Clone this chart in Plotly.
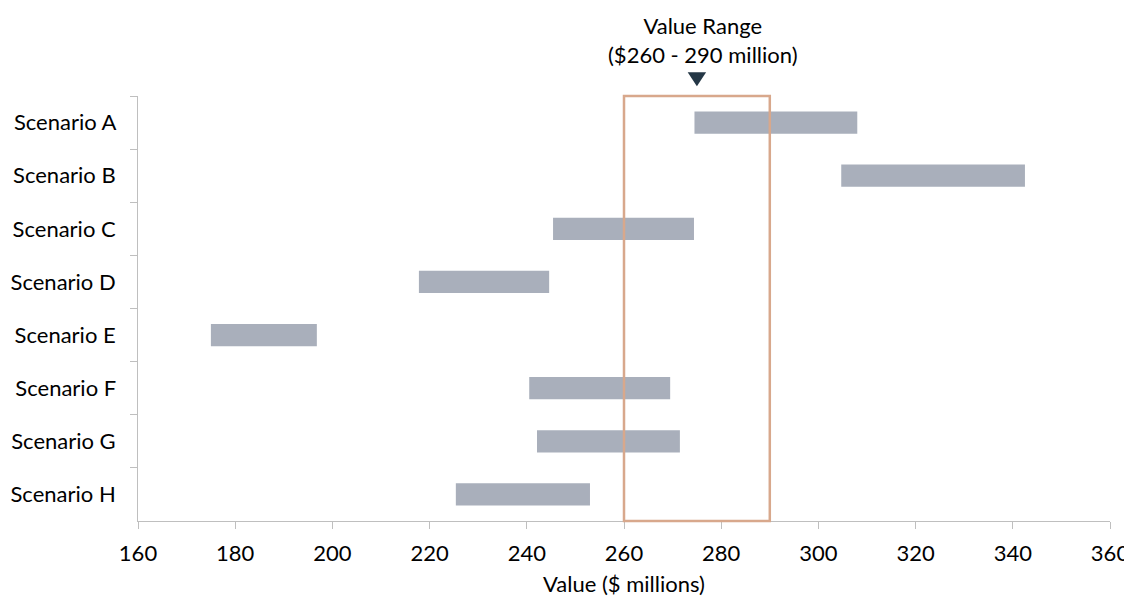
import plotly.graph_objects as go

scenarios = ["Scenario A", "Scenario B", "Scenario C", "Scenario D",
             "Scenario E", "Scenario F", "Scenario G", "Scenario H"]
low = [274.5, 304.7, 245.4, 217.8, 175.0, 240.5, 242.1, 225.4]
high = [308.0, 342.5, 274.4, 244.6, 196.8, 269.5, 271.5, 253.0]
range_low, range_high = 260, 290
marker_x = 275

FONT = "Lato"
FS = 22
fig = go.Figure()
fig.add_trace(go.Bar(
    y=scenarios, x=[h - l for l, h in zip(low, high)], base=low,
    orientation="h", marker=dict(color="#A9AFBB", line=dict(width=0)),
    width=0.42, hoverinfo="skip"))

fig.add_shape(type="rect", xref="x", yref="paper", x0=range_low, x1=range_high,
              y0=0, y1=1, line=dict(color="#D8A88C", width=2.5), fillcolor="rgba(0,0,0,0)")
fig.add_shape(type="path", xref="x", yref="paper",
              path=f"M {marker_x-1.9},1.056 L {marker_x+1.9},1.056 L {marker_x},1.023 Z",
              fillcolor="#243746", line=dict(width=0))
fig.add_annotation(xref="x", yref="paper", x=marker_x + 1.2, y=1.060, yanchor="bottom",
                   text="Value Range<br>($260 - 290 million)", showarrow=False,
                   font=dict(family=FONT, size=FS, color="#000"))
fig.add_annotation(xref="paper", yref="paper", x=0.5, y=-0.146, yanchor="middle",
                   text="Value ($ millions)", showarrow=False,
                   font=dict(family=FONT, size=FS, color="#000"))

fig.update_layout(
    width=1124, height=588, margin=dict(l=130, r=22, t=88, b=75),
    plot_bgcolor="white", paper_bgcolor="white", showlegend=False,
    font=dict(family=FONT, size=FS, color="#000"),
    xaxis=dict(range=[160, 360], dtick=20, showgrid=False, zeroline=False,
               showline=True, linecolor="#BFBFBF", linewidth=1, automargin=False,
               ticks="outside", ticklen=7, tickcolor="#BFBFBF", ticklabelstandoff=6,
               ticklabeloverflow="allow"),
    yaxis=dict(autorange="reversed", showgrid=False, showline=True, automargin=False,
               linecolor="#BFBFBF", linewidth=1, ticks="outside", ticklen=7,
               tickcolor="#BFBFBF", tickson="boundaries", ticksuffix="   "),
)
fig.write_html("out.html")
